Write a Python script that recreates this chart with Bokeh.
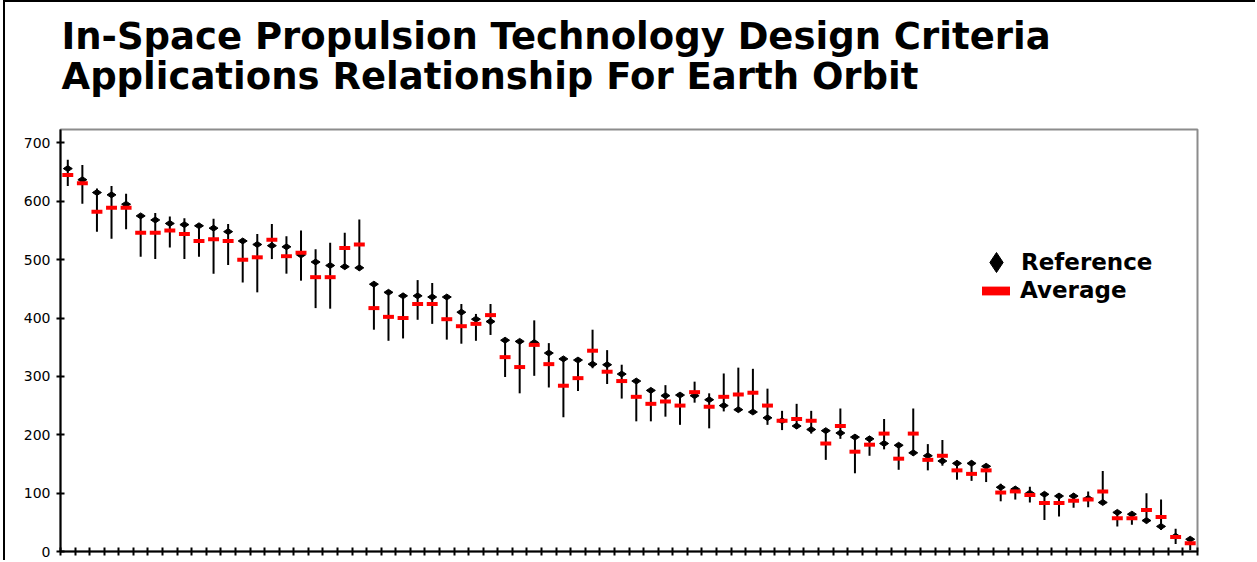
import numpy as np
from bokeh.plotting import figure
from bokeh.models import Range1d, FixedTicker, Legend, LegendItem, ColumnDataSource, LinearAxis
from bokeh.embed import file_html
from bokeh.resources import INLINE

title_text = "In-Space Propulsion Technology Design Criteria\nApplications Relationship For Earth Orbit"

reference = [656, 637, 615, 611, 595, 575, 568, 562, 560, 558, 554, 548, 532, 526, 524, 522,
             508, 496, 490, 488, 486, 458, 444, 438, 438, 436, 436, 410, 398, 394, 362, 360,
             358, 340, 330, 328, 321, 320, 304, 292, 276, 267, 268, 267, 260, 250, 243, 239,
             229, 224, 215, 209, 207, 203, 196, 193, 185, 182, 169, 164, 155, 151, 151, 146,
             110, 107, 100, 98, 95, 95, 91, 84, 67, 64, 53, 43, 26, 21]
average = [645, 631, 582, 589, 589, 546, 546, 550, 544, 532, 535, 532, 500, 504, 534, 506,
           512, 470, 470, 520, 526, 417, 402, 400, 424, 424, 398, 386, 390, 405, 333, 316,
           354, 321, 284, 297, 344, 308, 292, 265, 253, 257, 250, 273, 248, 265, 269, 272,
           250, 224, 227, 224, 185, 215, 171, 183, 202, 159, 202, 157, 164, 139, 133, 139,
           101, 103, 97, 83, 83, 87, 89, 103, 57, 57, 71, 59, 25, 14]
low = [626, 596, 548, 536, 552, 505, 501, 521, 501, 505, 476, 491, 461, 444, 501, 476,
       464, 417, 416, 486, 481, 380, 361, 365, 397, 390, 363, 356, 361, 371, 299, 271,
       301, 281, 230, 275, 314, 287, 262, 223, 223, 231, 217, 255, 211, 240, 240, 236,
       217, 208, 210, 202, 157, 193, 134, 164, 175, 140, 164, 139, 147, 123, 121, 119,
       86, 89, 84, 54, 60, 75, 76, 82, 43, 46, 48, 37, 13, 2]
high = [671, 662, 622, 626, 613, 578, 580, 574, 571, 561, 570, 561, 535, 544, 561, 540,
        550, 518, 529, 546, 569, 462, 448, 442, 465, 460, 436, 424, 407, 424, 362, 360,
        396, 357, 330, 328, 380, 345, 320, 292, 276, 285, 268, 291, 271, 305, 315, 313,
        279, 241, 253, 241, 207, 245, 196, 197, 227, 185, 245, 184, 191, 156, 156, 149,
        116, 111, 111, 98, 100, 100, 103, 138, 71, 67, 100, 89, 39, 25]
y_ticks = [0, 100, 200, 300, 400, 500, 600, 700]

n = len(reference)
src = ColumnDataSource(dict(x=np.arange(n) + 0.5, ref=reference, avg=average, lo=low, hi=high))

p = figure(width=1252, height=560, output_backend="svg", toolbar_location=None,
           x_range=Range1d(0, n), y_range=Range1d(0, 723),
           min_border_left=55, min_border_right=60, min_border_top=127, min_border_bottom=11,
           styles={"border-top": "2px solid black", "border-left": "2px solid black",
                   "margin-left": "3px"})

p.title.text = title_text
p.title.text_font = "DejaVu Sans"
p.title.text_font_style = "bold"
p.title.text_font_size = "37px"
p.title.text_color = "black"
p.title.text_line_height = 0.94
p.title.align = "left"
p.title.vertical_align = "top"
p.title.offset = 1
p.title.standoff = 4

# invisible spacer between the title and the plot frame
spacer = LinearAxis(ticker=FixedTicker(ticks=[]), axis_line_color=None,
                    major_tick_line_color=None, minor_tick_line_color=None,
                    major_tick_in=0, major_tick_out=28)
p.add_layout(spacer, "above")

p.background_fill_color = "white"
p.border_fill_color = "white"
p.outline_line_color = "#8c8c8c"
p.outline_line_width = 2
p.xgrid.visible = False
p.ygrid.visible = False

p.yaxis.ticker = FixedTicker(ticks=y_ticks)
p.yaxis.major_label_text_font = "DejaVu Sans"
p.yaxis.major_label_text_font_size = "14px"
p.yaxis.major_label_text_color = "black"
p.yaxis.major_label_standoff = 6
p.xaxis.ticker = FixedTicker(ticks=list(range(n + 1)))
p.xaxis.major_label_overrides = {i: "" for i in range(n + 1)}
p.xaxis.major_label_text_font_size = "1px"
p.xaxis.major_label_text_color = None
p.xaxis.major_label_standoff = 0
for ax in (p.below[0], p.left[0]):
    ax.axis_line_color = "black"
    ax.axis_line_width = 2
    ax.major_tick_line_color = "black"
    ax.major_tick_line_width = 2
    ax.major_tick_in = 4
    ax.major_tick_out = 4
    ax.minor_tick_line_color = None

p.segment(x0="x", y0="lo", x1="x", y1="hi", source=src, line_color="black", line_width=2)
r_ref = p.scatter(x="x", y="ref", source=src, marker="diamond", size=9, angle=np.pi / 2,
                  fill_color="black", line_color="black")
r_avg = p.rect(x="x", y="avg", width=0.75, height=4, height_units="screen", source=src,
               fill_color="red", line_color=None)

common = dict(padding=0, margin=0, border_line_color=None, background_fill_alpha=0,
              label_text_font="DejaVu Sans", label_text_font_style="bold",
              label_text_font_size="23px", label_text_color="black")
leg1 = Legend(items=[LegendItem(label="Reference", renderers=[r_ref])], location=(911, 264),
              glyph_width=50, glyph_height=50, label_standoff=0, **common)
leg2 = Legend(items=[LegendItem(label="Average", renderers=[r_avg])], location=(918, 248),
              glyph_width=35, glyph_height=11, label_standoff=7, **common)
p.add_layout(leg1)
p.add_layout(leg2)

open("out.html", "w").write(file_html(p, INLINE))
